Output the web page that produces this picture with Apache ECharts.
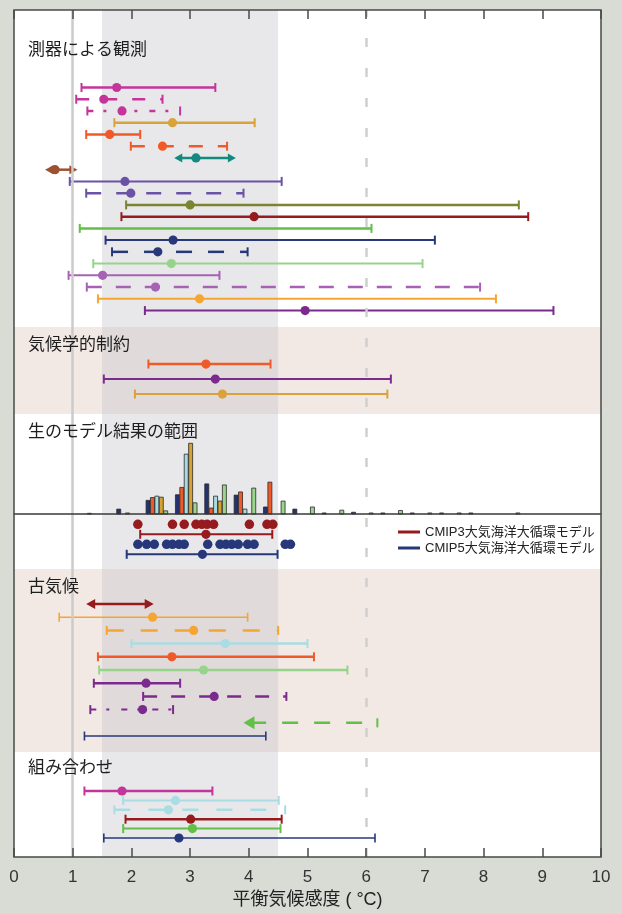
<!DOCTYPE html>
<html>
<head>
<meta charset="utf-8">
<script src="https://cdn.jsdelivr.net/npm/echarts@6/dist/echarts.min.js"></script>
<style>
  html, body { margin: 0; padding: 0; background: #d8dcd4; }
  #chart { width: 622px; height: 914px; }
</style>
</head>
<body>
<div id="chart"></div>
<script>
// ---------- tick labels ----------
const xTicks = [0, 1, 2, 3, 4, 5, 6, 7, 8, 9, 10];

// ---------- 測器による観測 (instrumental) ----------
const obsLow  = [1.15, 1.06, 1.25, 1.71, 1.23, 1.99, 2.73, 0.53, 0.95, 1.23, 1.91, 1.83, 1.12, 1.56, 1.67, 1.35, 0.93, 1.24, 1.43, 2.23];
const obsHigh = [3.43, 2.53, 2.83, 4.10, 2.15, 3.63, 3.78, 1.08, 4.56, 3.91, 8.60, 8.76, 6.09, 7.17, 3.98, 6.96, 3.50, 7.94, 8.21, 9.19];
const obsBest = [1.75, 1.53, 1.84, 2.70, 1.63, 2.53, 3.10, 0.70, 1.89, 1.99, 3.00, 4.09, null, 2.71, 2.45, 2.68, 1.51, 2.41, 3.16, 4.96];

// ---------- 気候学的制約 (climatological constraints) ----------
const climLow  = [2.29, 1.53, 2.06];
const climHigh = [4.37, 6.42, 6.36];
const climBest = [3.27, 3.43, 3.55];

// ---------- 生のモデル結果の範囲 (histogram of raw model output) ----------
const histBins   = [1.25, 1.75, 2.25, 2.75, 3.25, 3.75, 4.25, 4.75, 5.25, 5.75, 6.25, 6.75, 7.25, 7.75, 8.25];
const histNavy   = [0.2, 1.4, 3.9, 5.5, 8.6, 5.4, 2.0, 1.4, 0.3, 0.5, 0.3, 0.3, 0.3, 0.3, 0];
const histOrange = [0,   0,   4.7, 7.6, 1.7, 6.3, 9.1, 0,   0,   0,   0,   0,   0,   0,   0];
const histBlue   = [0,   0.3, 5.1, 17.1, 5.1, 1.4, 0,  0,   0,   0,   0,   0,   0,   0,   0];
const histGold   = [0,   0,   4.8, 20.2, 3.7, 0,   0,   0,   0,   0,   0,   0,   0,   0,   0];
const histGreen  = [0,   0,   0.9, 3.2, 8.3, 7.4, 3.7, 2.0, 1.1, 0.3, 1.0, 0.3, 0.3, 0,   0.3];

// ---------- CMIP3 / CMIP5 models ----------
const cmip3Models = [2.11, 2.70, 2.90, 3.10, 3.20, 3.29, 3.40, 4.01, 4.31, 4.41];
const cmip5Models = [2.11, 2.26, 2.39, 2.60, 2.70, 2.81, 2.90, 3.30, 3.51, 3.61, 3.71, 3.82, 3.98, 4.09, 4.62, 4.71];
const cmip3Range = [2.15, 4.40, 3.27];   // low, high, best
const cmip5Range = [1.92, 4.49, 3.21];

// ---------- 古気候 (palaeoclimate) ----------
const paleoLow  = [1.23, 0.77, 1.58, 2.00, 1.43, 1.45, 1.36, 2.20, 1.30, 3.91, 1.20];
const paleoHigh = [2.38, 3.98, 4.50, 5.00, 5.11, 5.68, 2.83, 4.64, 2.71, 6.19, 4.29];
const paleoBest = [null, 2.36, 3.06, 3.60, 2.69, 3.23, 2.25, 3.41, 2.19, null, null];

// ---------- 組み合わせ (combinations) ----------
const combLow  = [1.20, 1.86, 1.71, 1.90, 1.86, 1.53];
const combHigh = [3.38, 4.51, 4.62, 4.56, 4.54, 6.15];
const combBest = [1.84, 2.75, 2.63, 3.01, 3.04, 2.81];

// ---------- colours and line styles ----------
const C = {
  mag: '#c4359b', gold: '#d9a23b', orr: '#f05a28', teal: '#148a7e', brown: '#9c5230',
  slate: '#6a52a6', olive: '#7b8430', dred: '#951b1e', green: '#62bf47', navy: '#27387a',
  lgreen: '#97d48b', lav: '#a761b5', orange: '#f6a533', purp: '#7b2b8d', lblue: '#a9dce3'
};
const AA = ['arrow', 'arrow'];
const obsStyle = [
  { c: C.mag, w: 2.5 }, { c: C.mag, w: 2.5, dash: [13, 15] }, { c: C.mag, w: 2.5, dash: [6, 10, 3, 12] },
  { c: C.gold, w: 2.5 }, { c: C.orr, w: 2.5 }, { c: C.orr, w: 2.5, dash: [14, 15] },
  { c: C.teal, w: 2.5, ends: AA }, { c: C.brown, w: 2.5, ends: AA },
  { c: C.slate, w: 2 }, { c: C.slate, w: 2.5, dash: [15, 15] },
  { c: C.olive, w: 2.5 }, { c: C.dred, w: 2.5 }, { c: C.green, w: 2.5 },
  { c: C.navy, w: 2 }, { c: C.navy, w: 2.5, dash: [16, 16] }, { c: C.lgreen, w: 2 },
  { c: C.lav, w: 2 }, { c: C.lav, w: 2.5, dash: [15, 14] }, { c: C.orange, w: 2 }, { c: C.purp, w: 2 }
];
const climStyle = [{ c: C.orr, w: 2.5 }, { c: C.purp, w: 2 }, { c: C.gold, w: 2 }];
const paleoStyle = [
  { c: C.dred, w: 2.5, ends: AA, aL: 9, aW: 5 }, { c: C.orange, w: 1.6 }, { c: C.orange, w: 2.5, dash: [17, 17] },
  { c: C.lblue, w: 2.5 }, { c: C.orr, w: 2.5 }, { c: C.lgreen, w: 2.5 },
  { c: C.purp, w: 2.5 }, { c: C.purp, w: 2.5, dash: [14, 14] }, { c: C.purp, w: 2, dash: [6, 10, 3, 12] },
  { c: C.green, w: 2.5, dash: [16, 16], ends: ['arrow', 'cap'], aL: 11, aW: 6.5 }, { c: C.navy, w: 1.6 }
];
const combStyle = [
  { c: C.mag, w: 2.5 }, { c: C.lblue, w: 2 }, { c: C.lblue, w: 2.5, dash: [16, 18] },
  { c: C.dred, w: 2.5 }, { c: C.green, w: 2 }, { c: C.navy, w: 1.6 }
];
const histColors = ['#23336f', '#f05a28', '#a6dbe4', '#d7a133', '#9ad58e'];
const histSeries = [histNavy, histOrange, histBlue, histGold, histGreen];

const PLOT_L = 14, PLOT_R = 21;
const JP = '"Noto Sans CJK JP", "Noto Sans", sans-serif';
const LAT = '"Liberation Sans", Arial, "Noto Sans CJK JP", sans-serif';

// error bar drawn from [low, high, row, best]
function errorBarRenderer(styles) {
  return function (params, api) {
    const s = styles[params.dataIndex];
    const row = api.value(2);
    const a = api.coord([api.value(0), row]);
    const b = api.coord([api.value(1), row]);
    const best = api.value(3);
    const ends = s.ends || ['cap', 'cap'];
    const aL = s.aL || 8, aW = s.aW || 4.5;
    const y = a[1];
    const children = [];
    const lx0 = ends[0] === 'arrow' ? a[0] + aL * 0.6 : a[0];
    const lx1 = ends[1] === 'arrow' ? b[0] - aL * 0.6 : b[0];
    children.push({
      type: 'line', shape: { x1: lx0, y1: y, x2: lx1, y2: y },
      style: { stroke: s.c, lineWidth: s.w, lineDash: s.dash || null, lineCap: 'butt' }
    });
    [0, 1].forEach(function (k) {
      const x = k ? b[0] : a[0];
      const dir = k ? 1 : -1;
      if (ends[k] === 'cap') {
        children.push({ type: 'line', shape: { x1: x, y1: y - 4.5, x2: x, y2: y + 4.5 },
          style: { stroke: s.c, lineWidth: Math.min(s.w, 2) } });
      } else if (ends[k] === 'arrow') {
        children.push({ type: 'polygon',
          shape: { points: [[x, y], [x - dir * aL, y - aW], [x - dir * aL, y + aW]] },
          style: { fill: s.c } });
      }
    });
    if (best != null && !isNaN(best)) {
      const p = api.coord([best, row]);
      children.push({ type: 'circle', shape: { cx: p[0], cy: p[1], r: 4.6 }, style: { fill: s.c } });
    }
    return { type: 'group', children: children };
  };
}

// section grid g uses xAxis g+1 and yAxis g
function errorSeries(name, low, high, best, styles, gridIdx, rowOffset) {
  return {
    type: 'custom', name: name, xAxisIndex: gridIdx + 1, yAxisIndex: gridIdx, z: 3,
    encode: { x: [0, 1], y: 2 },
    renderItem: errorBarRenderer(styles),
    data: low.map(function (v, i) { return [v, high[i], i + (rowOffset || 0), best[i] == null ? NaN : best[i]]; }),
    silent: true, animation: false
  };
}

// histogram bars: five models side by side within each bin
const BAR_STEP = 0.075, BAR_W = 0.068;
function histBarSeries(k) {
  return {
    type: 'custom', xAxisIndex: 3, yAxisIndex: 2, z: 3, silent: true, animation: false,
    encode: { x: 0, y: 1 },
    data: histBins.map(function (b, i) { return [b, histSeries[k][i]]; }).filter(function (d) { return d[1] > 0; }),
    renderItem: function (params, api) {
      const x0 = api.value(0) + k * BAR_STEP;
      const p0 = api.coord([x0, api.value(1)]);
      const p1 = api.coord([x0 + BAR_W, 0]);
      return { type: 'rect',
        shape: { x: p0[0], y: p0[1], width: p1[0] - p0[0], height: p1[1] - p0[1] },
        style: { fill: histColors[k], stroke: '#2a2a2a', lineWidth: 0.8 } };
    }
  };
}

// section grids
const sections = [
  { top: 10,  height: 317, bg: '#ffffff', yMin: -6.6,  yMax: 20.4 },  // 測器による観測
  { top: 327, height: 87,  bg: '#f2e9e5', yMin: -2.47, yMax: 3.33 },  // 気候学的制約
  { top: 414, height: 100, bg: '#ffffff', yMin: 0,     yMax: 28.57 }, // histogram
  { top: 514, height: 55,  bg: '#ffffff', yMin: -1.03, yMax: 4.47 },  // CMIP
  { top: 569, height: 183, bg: '#f2e9e5', yMin: -2.65, yMax: 11.21 }, // 古気候
  { top: 752, height: 105, bg: '#ffffff', yMin: -4.15, yMax: 7.02 }   // 組み合わせ
];

const grids = [], xAxes = [], yAxes = [];
sections.forEach(function (s, i) {
  grids.push({ left: PLOT_L, right: PLOT_R, top: s.top, height: s.height, show: true,
    backgroundColor: s.bg, borderWidth: 0, z: 0 });
  xAxes.push({ gridIndex: i, type: 'value', min: 0, max: 10, show: i === 2,
    position: 'bottom',
    axisLine: { show: i === 2, onZero: false, lineStyle: { color: '#3a3a3a', width: 1.5 } },
    axisTick: { show: false }, axisLabel: { show: false }, splitLine: { show: false }, z: 6 });
  yAxes.push({ gridIndex: i, type: 'value', min: s.yMin, max: s.yMax, inverse: i !== 2, show: false });
});
// frame grid (index 6): border, band, reference lines and the labelled axes
grids.push({ left: PLOT_L, right: PLOT_R, top: 10, bottom: 57, show: true,
  backgroundColor: 'transparent', borderColor: '#4a4a4a', borderWidth: 1.5, z: 10 });
const frameBottom = {
  gridIndex: 6, type: 'value', min: 0, max: 10, interval: 1, position: 'bottom', z: 10,
  axisLine: { show: false },
  axisTick: { show: true, inside: true, length: 9, lineStyle: { color: '#4a4a4a', width: 1.5 } },
  axisLabel: { show: true, margin: 12, fontSize: 17, color: '#333', fontFamily: LAT,
    formatter: function (v) { const i = xTicks.indexOf(v); return i >= 0 ? String(xTicks[i]) : ''; } },
  splitLine: { show: false },
  name: '平衡気候感度 ( °C)', nameLocation: 'middle', nameGap: 34,
  nameTextStyle: { fontSize: 18, color: '#222', fontFamily: LAT }
};
const frameTop = {
  gridIndex: 6, type: 'value', min: 0, max: 10, interval: 1, position: 'top', z: 10,
  axisLine: { show: false },
  axisTick: { show: true, inside: true, length: 9, lineStyle: { color: '#4a4a4a', width: 1.5 } },
  axisLabel: { show: false }, splitLine: { show: false }
};
// xAxis order: 0 frame bottom, 1..6 sections, 7 frame top
const xAxisAll = [frameBottom].concat(xAxes).concat([frameTop]);
const yAxisAll = yAxes.concat([{ gridIndex: 6, type: 'value', min: 0, max: 1, show: false }]);

const series = [
  // likely range band and reference lines
  {
    type: 'line', xAxisIndex: 0, yAxisIndex: 6, data: [], z: 1, silent: true, animation: false,
    markArea: { silent: true, itemStyle: { color: 'rgba(195,195,203,0.385)' },
      data: [[{ xAxis: 1.5 }, { xAxis: 4.5 }]] },
    markLine: { silent: true, symbol: 'none', label: { show: false }, animation: false,
      data: [
        { xAxis: 1, lineStyle: { color: '#cbcbcb', width: 2.5, type: 'solid' } },
        { xAxis: 6, lineStyle: { color: '#cfcfcf', width: 2.5, type: [9, 21] } }
      ] }
  },
  errorSeries('obs', obsLow, obsHigh, obsBest, obsStyle, 0),
  errorSeries('clim', climLow, climHigh, climBest, climStyle, 1),
  histBarSeries(0), histBarSeries(1), histBarSeries(2), histBarSeries(3), histBarSeries(4),
  {
    type: 'scatter', xAxisIndex: 4, yAxisIndex: 3, symbolSize: 9.5, z: 3, silent: true, animation: false,
    itemStyle: { color: '#951b1e', opacity: 1 }, data: cmip3Models.map(function (v) { return [v, 0]; })
  },
  {
    type: 'scatter', xAxisIndex: 4, yAxisIndex: 3, symbolSize: 9.5, z: 3, silent: true, animation: false,
    itemStyle: { color: '#27387a', opacity: 1 }, data: cmip5Models.map(function (v) { return [v, 2]; })
  },
  errorSeries('CMIP3大気海洋大循環モデル', [cmip3Range[0]], [cmip3Range[1]], [cmip3Range[2]], [{ c: '#951b1e', w: 2 }], 3, 1),
  errorSeries('CMIP5大気海洋大循環モデル', [cmip5Range[0]], [cmip5Range[1]], [cmip5Range[2]], [{ c: '#27387a', w: 2 }], 3, 3),
  errorSeries('paleo', paleoLow, paleoHigh, paleoBest, paleoStyle, 4),
  errorSeries('comb', combLow, combHigh, combBest, combStyle, 5)
];

const titleDefs = [
  { text: '測器による観測', top: 40 },
  { text: '気候学的制約', top: 335 },
  { text: '生のモデル結果の範囲', top: 422 },
  { text: '古気候', top: 577 },
  { text: '組み合わせ', top: 758 }
];

const option = {
  backgroundColor: '#d8dcd4',
  animation: false,
  title: titleDefs.map(function (t) {
    return { text: t.text, left: 28, top: t.top, padding: 0,
      textStyle: { fontSize: 17, fontWeight: 'normal', color: '#1e1e1e', fontFamily: JP } };
  }),
  legend: {
    left: 398, top: 525, orient: 'vertical', padding: 0, itemGap: 2,
    itemWidth: 22, itemHeight: 3, selectedMode: false,
    textStyle: { fontSize: 13, color: '#222', fontFamily: LAT, lineHeight: 14 },
    data: [
      { name: 'CMIP3大気海洋大循環モデル', icon: 'rect', itemStyle: { color: '#951b1e' } },
      { name: 'CMIP5大気海洋大循環モデル', icon: 'rect', itemStyle: { color: '#27387a' } }
    ]
  },
  grid: grids,
  xAxis: xAxisAll,
  yAxis: yAxisAll,
  series: series
};

const chart = echarts.init(document.getElementById('chart'), null, { renderer: 'canvas' });
chart.setOption(option);
</script>
</body>
</html>
